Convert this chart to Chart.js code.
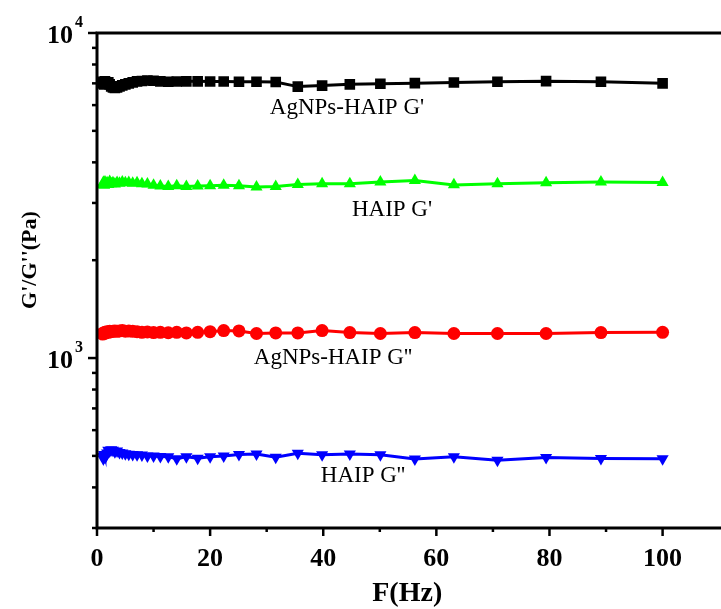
<!DOCTYPE html>
<html>
<head>
<meta charset="utf-8">
<script src="https://cdn.jsdelivr.net/npm/chart.js@4/dist/chart.umd.min.js"></script>
<style>
  html, body { margin: 0; padding: 0; background: #fff; }
</style>
</head>
<body>
<canvas id="myChart" width="721" height="609"></canvas>
<script>
let ctx = document.getElementById('myChart')

// frequency sweep, Hz
let freq = [1, 1.12, 1.26, 1.41, 1.58, 1.78, 2, 2.24, 2.51, 2.82,
    3.16, 3.55, 3.98, 4.47, 5.01, 5.62, 6.31, 7.08, 7.94, 8.91,
    10, 11.2, 12.6, 14.1, 15.8, 17.8, 20, 22.4, 25.1, 28.2,
    31.6, 35.5, 39.8, 44.7, 50.1, 56.2, 63.1, 70.8, 79.4, 89.1, 100]

// AgNPs-HAIP G'
let agStorage = [7000, 7080, 6950, 7100, 7050, 7000, 7050, 6950, 6850, 6800,
    6780, 6800, 6850, 6900, 6950, 7000, 7050, 7100, 7120, 7140,
    7130, 7100, 7080, 7090, 7100, 7100, 7090, 7090, 7080, 7080,
    7070, 6840, 6890, 6950, 6980, 7010, 7045, 7080, 7110, 7080, 7000]

// HAIP G'
let haipStorage = [3420, 3470, 3400, 3480, 3430, 3460, 3420, 3490, 3440, 3460,
    3430, 3470, 3450, 3480, 3460, 3470, 3450, 3460, 3440, 3430,
    3400, 3380, 3370, 3390, 3370, 3380, 3390, 3400, 3390, 3360,
    3370, 3420, 3440, 3440, 3480, 3520, 3410, 3440, 3460, 3480, 3470]

// AgNPs-HAIP G''
let agLoss = [1185, 1195, 1190, 1200, 1195, 1205, 1200, 1210, 1205, 1210,
    1212, 1208, 1212, 1215, 1210, 1212, 1208, 1205, 1200, 1203,
    1198, 1200, 1196, 1200, 1195, 1200, 1205, 1215, 1212, 1190,
    1195, 1195, 1215, 1198, 1190, 1198, 1190, 1190, 1190, 1198, 1200]

// HAIP G''
let haipLoss = [500, 490, 505, 495, 500, 510, 520, 518, 522, 520,
    515, 518, 512, 510, 508, 506, 505, 504, 503, 500,
    500, 498, 497, 490, 497, 492, 497, 500, 505, 507,
    495, 509, 504, 507, 504, 489, 497, 485, 494, 491, 490]

let xMajor = [0, 20, 40, 60, 80, 100]
let xMinor = [10, 30, 50, 70, 90]
let yMajor = [1000, 10000]
let yMinor = [300, 400, 500, 600, 700, 800, 900, 2000, 3000, 4000, 5000, 6000, 7000, 8000, 9000]

function pts(ys) {
    return freq.map((f, i) => ({ x: f, y: ys[i] }))
}

// axes, ticks, labels and notes drawn by hand
let frame = {
    id: 'frame',
    afterDatasetsDraw(chart) {
        let c = chart.ctx
        let a = chart.chartArea
        let sx = chart.scales.x
        let sy = chart.scales.y
        c.save()
        c.strokeStyle = '#000'
        c.fillStyle = '#000'

        // ticks
        c.lineWidth = 2.5
        xMajor.concat(xMinor).forEach(v => {
            let px = sx.getPixelForValue(v)
            let len = xMajor.includes(v) ? 8 : 4
            c.beginPath()
            c.moveTo(px, a.bottom)
            c.lineTo(px, a.bottom + len)
            c.stroke()
        })
        yMajor.concat(yMinor).forEach(v => {
            let py = sy.getPixelForValue(v)
            let len = yMajor.includes(v) ? 9 : 5
            c.beginPath()
            c.moveTo(a.left, py)
            c.lineTo(a.left - len, py)
            c.stroke()
        })

        // axis lines
        c.lineWidth = 3
        c.beginPath()
        c.moveTo(721, a.top)
        c.lineTo(a.left, a.top)
        c.lineTo(a.left, a.bottom)
        c.lineTo(721, a.bottom)
        c.stroke()

        // x tick labels
        c.font = 'bold 26px "Liberation Serif"'
        c.textAlign = 'center'
        c.textBaseline = 'middle'
        xMajor.forEach(v => {
            c.fillText(String(v), sx.getPixelForValue(v), a.bottom + 31)
        })

        // y tick labels 10^n
        yMajor.forEach(v => {
            let py = sy.getPixelForValue(v)
            c.font = 'bold 26px "Liberation Serif"'
            c.textAlign = 'right'
            c.fillText('10', a.left - 24, py + 3)
            c.font = 'bold 16px "Liberation Serif"'
            c.textAlign = 'left'
            c.fillText(String(Math.round(Math.log10(v))), a.left - 22, py - 10)
        })

        // axis titles
        c.font = 'bold 28px "Liberation Serif"'
        c.textAlign = 'center'
        c.fillText('F(Hz)', (a.left + a.right) / 2 + 2, 594)
        c.save()
        c.translate(30, 260)
        c.rotate(-Math.PI / 2)
        c.font = 'bold 22px "Liberation Serif"'
        c.fillText("G'/G''(Pa)", 0, 0)
        c.restore()

        // series notes
        c.font = '23px "Liberation Serif"'
        c.textAlign = 'center'
        c.textBaseline = 'alphabetic'
        c.fillText("AgNPs-HAIP G'", 347, 114)
        c.fillText("HAIP G'", 392, 216)
        c.fillText("AgNPs-HAIP G''", 333, 364)
        c.fillText("HAIP G''", 363, 482)
        c.restore()
    }
}

new Chart(ctx, {
    type: 'line',
    data: {
        datasets: [
            { label: "AgNPs-HAIP G'", data: pts(agStorage), borderColor: '#000', backgroundColor: '#000',
              pointStyle: 'rect', pointRadius: 7.5 },
            { label: "HAIP G'", data: pts(haipStorage), borderColor: '#00ff00', backgroundColor: '#00ff00',
              pointStyle: 'triangle', pointRadius: 7 },
            { label: "AgNPs-HAIP G''", data: pts(agLoss), borderColor: '#ff0000', backgroundColor: '#ff0000',
              pointStyle: 'circle', pointRadius: 6.5 },
            { label: "HAIP G''", data: pts(haipLoss), borderColor: '#0000ff', backgroundColor: '#0000ff',
              pointStyle: 'triangle', pointRotation: 180, pointRadius: 7 }
        ]
    },
    options: {
        responsive: false,
        animation: false,
        devicePixelRatio: 1,
        borderWidth: 3,
        elements: {
            line: { borderWidth: 3, tension: 0 },
            point: { borderWidth: 0 }
        },
        layout: { padding: { top: 33, right: 2, left: 0, bottom: 0 } },
        scales: {
            x: {
                type: 'linear', min: 0, max: 109,
                grid: { display: false }, border: { display: false }, ticks: { display: false },
                afterFit: s => { s.height = 81 }
            },
            y: {
                type: 'logarithmic', min: 300, max: 10000,
                grid: { display: false }, border: { display: false }, ticks: { display: false },
                afterFit: s => { s.width = 97 }
            }
        },
        plugins: {
            legend: { display: false },
            tooltip: { enabled: false }
        }
    },
    plugins: [frame]
})
</script>
</body>
</html>
